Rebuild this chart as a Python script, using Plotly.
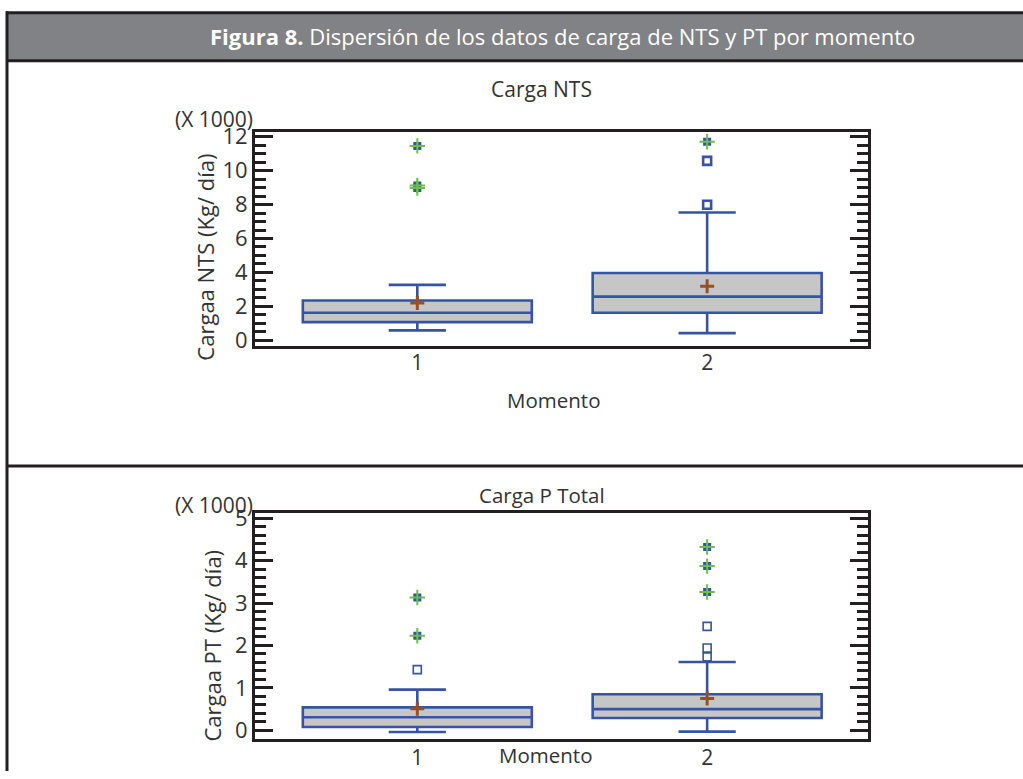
import plotly.graph_objects as go

W, H = 1023, 779

# ---------------- data (values in thousands of Kg/día) ----------------
momentos = [1, 2]
momento_labels = ["1", "2"]

nts_q1 = [1.08, 1.63]
nts_median = [1.63, 2.58]
nts_q3 = [2.35, 3.97]
nts_lower = [0.59, 0.43]
nts_upper = [3.27, 7.53]
nts_mean = [2.21, 3.19]
nts_out_x = [2, 2]
nts_out_y = [7.99, 10.57]
nts_far_x = [1, 1, 1, 2]
nts_far_y = [11.45, 9.12, 8.97, 11.69]

pt_q1 = [0.08, 0.29]
pt_median = [0.31, 0.50]
pt_q3 = [0.54, 0.85]
pt_lower = [-0.04, -0.03]
pt_upper = [0.96, 1.61]
pt_mean = [0.51, 0.75]
pt_out_x = [1, 2, 2, 2]
pt_out_y = [1.43, 1.73, 1.94, 2.45]
pt_far_x = [1, 1, 2, 2, 2]
pt_far_y = [2.23, 3.13, 3.26, 3.87, 4.32]

nts_yticks = [0, 2, 4, 6, 8, 10, 12]
pt_yticks = [0, 1, 2, 3, 4, 5]

# ---------------- styles ----------------
BLUE = "#3653a4"
GREEN = "#6cc04a"
BROWN = "#9a4f23"
FILL = "#c6c6c6"
DARK = "#231f20"
TXT = "#333333"
FONT = "Open Sans"


def px(x):
    return x / W


def py(t):
    # page position (px from top) -> paper fraction, with render compensation
    y = (t - 10.7) / 0.977
    return 1 - y / H


fig = go.Figure()


def add_panel(xa, ya, q1, med, q3, lo, up, mean, ox, oy, fx, fy, open_lw):
    fig.add_trace(go.Box(
        x=momentos, q1=q1, median=med, q3=q3, lowerfence=lo, upperfence=up,
        width=0.79, whiskerwidth=0.25, fillcolor=FILL,
        line=dict(color=BLUE, width=2.6), boxpoints=False,
        xaxis=xa, yaxis=ya, showlegend=False, hoverinfo="skip"))
    fig.add_trace(go.Scatter(
        x=ox, y=oy, mode="markers", xaxis=xa, yaxis=ya, showlegend=False,
        marker=dict(symbol="square-open", size=8, color=BLUE,
                    line=dict(color=BLUE, width=open_lw))))
    fig.add_trace(go.Scatter(
        x=fx, y=fy, mode="markers", xaxis=xa, yaxis=ya, showlegend=False,
        marker=dict(symbol="square", size=8, color=BLUE)))
    fig.add_trace(go.Scatter(
        x=fx, y=fy, mode="markers", xaxis=xa, yaxis=ya, showlegend=False,
        marker=dict(symbol="cross-thin-open", size=11, color=GREEN,
                    line=dict(color=GREEN, width=2))))
    fig.add_trace(go.Scatter(
        x=momentos, y=mean, mode="markers", xaxis=xa, yaxis=ya, showlegend=False,
        marker=dict(symbol="cross-thin-open", size=10, color=BROWN,
                    line=dict(color=BROWN, width=3))))


add_panel("x", "y", nts_q1, nts_median, nts_q3, nts_lower, nts_upper, nts_mean,
          nts_out_x, nts_out_y, nts_far_x, nts_far_y, 2.6)
add_panel("x2", "y2", pt_q1, pt_median, pt_q3, pt_lower, pt_upper, pt_mean,
          pt_out_x, pt_out_y, pt_far_x, pt_far_y, 1.6)

xdom = [px(255), px(868)]


def xaxis_cfg(ydom_anchor, standoff):
    return dict(domain=xdom, anchor=ydom_anchor, range=[0.44, 2.555],
                tickvals=momentos, ticktext=momento_labels, ticks="",
                showline=True, linewidth=3, linecolor=DARK, mirror=True,
                showgrid=False, zeroline=False, ticklabelstandoff=standoff,
                tickfont=dict(family=FONT, size=21, color=TXT))


def yaxis_cfg(anchor, dom, rng, tickvals, minor_dt):
    return dict(domain=dom, anchor=anchor, range=rng, tickvals=tickvals,
                ticks="inside", ticklen=18, tickwidth=3, tickcolor=DARK,
                showline=True, linewidth=3, linecolor=DARK, mirror="ticks",
                showgrid=False, zeroline=False,
                minor=dict(dtick=minor_dt, ticks="inside", ticklen=11,
                           tickwidth=3, tickcolor=DARK, showgrid=False),
                tickfont=dict(family=FONT, size=22, color=TXT))


fig.update_layout(
    width=W, height=H, margin=dict(l=0, r=0, t=0, b=0),
    paper_bgcolor="white", plot_bgcolor="white",
    xaxis=xaxis_cfg("y", -5),
    yaxis=yaxis_cfg("x", [py(346), py(131)], [-0.35, 12.27], nts_yticks, 0.5),
    xaxis2=xaxis_cfg("y2", -2),
    yaxis2=yaxis_cfg("x2", [py(739.3), py(512.7)], [-0.195, 5.13], pt_yticks, 0.2),
)

shapes = [
    dict(type="rect", xref="paper", yref="paper", x0=px(7), x1=1, y0=py(59), y1=py(11),
         fillcolor="#818285", line=dict(width=0), layer="below"),
    dict(type="line", xref="paper", yref="paper", x0=px(6), x1=1, y0=py(11.5), y1=py(11.5),
         line=dict(color=DARK, width=3)),
    dict(type="line", xref="paper", yref="paper", x0=px(6), x1=1, y0=py(59.5), y1=py(59.5),
         line=dict(color=DARK, width=3)),
    dict(type="line", xref="paper", yref="paper", x0=px(7), x1=1, y0=py(466), y1=py(466),
         line=dict(color=DARK, width=3)),
    dict(type="line", xref="paper", yref="paper", x0=px(7), x1=px(7), y0=0, y1=py(10),
         line=dict(color=DARK, width=3)),
]
fig.update_layout(shapes=shapes)


def ann(text, x, y, size, color=TXT, angle=0, xanchor="center", family=FONT):
    return dict(text=text, x=px(x), y=py(y), xref="paper", yref="paper",
                showarrow=False, xanchor=xanchor, yanchor="middle",
                textangle=angle, font=dict(family=family, size=size, color=color))


annotations = [
    ann("<b>Figura 8.</b> Dispersión de los datos de carga de NTS y PT por momento",
        562, 35, 22, color="white"),
    ann("Carga NTS", 541, 88, 21),
    ann("(X 1000)", 214, 118, 21),
    ann("Cargaa NTS (Kg/ día)", 205, 257, 22, angle=-90),
    ann("Momento", 553, 400, 20.5),
    ann("Carga P Total", 542, 495, 20.5),
    ann("(X 1000)", 214, 505, 21),
    ann("Cargaa PT (Kg/ día)", 212, 646, 22, angle=-90),
    ann("Momento", 545, 756, 20.5),
]
fig.update_layout(annotations=annotations)

fig.write_html(
    "out.html",
    config={"displayModeBar": False},
    post_script="document.body.style.margin='0';document.body.style.overflow='hidden';",
)
